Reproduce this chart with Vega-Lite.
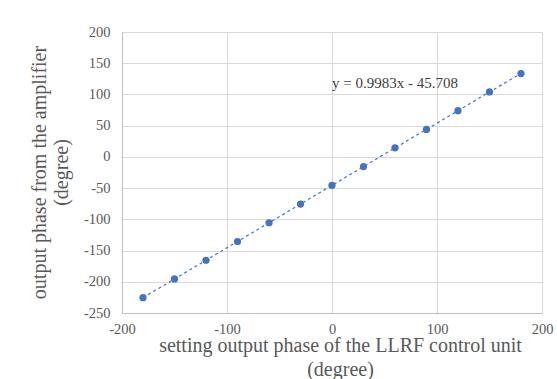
{
  "$schema": "https://vega.github.io/schema/vega-lite/v6.json",
  "autosize": "none",
  "width": 420,
  "height": 281,
  "padding": {"left": 122, "top": 32, "right": 15, "bottom": 66},
  "background": "white",
  "config": {
    "font": "Liberation Serif",
    "view": {"stroke": "#bfbfbf", "strokeWidth": 1},
    "axis": {
      "labelFont": "Liberation Serif",
      "titleFont": "Liberation Serif",
      "labelColor": "#595959",
      "titleColor": "#595959",
      "labelFontSize": 14.5,
      "titleFontSize": 20,
      "titleFontWeight": "normal",
      "gridColor": "#d9d9d9",
      "gridWidth": 1,
      "domainColor": "#bfbfbf",
      "ticks": false,
      "labelFlush": false,
      "labelOverlap": false,
      "labelExpr": "'' + datum.value"
    }
  },
  "data": {
    "values": [
      {"x": -180, "y": -225.5},
      {"x": -150, "y": -195.5},
      {"x": -120, "y": -165.5},
      {"x": -90, "y": -135.5},
      {"x": -60, "y": -105.5},
      {"x": -30, "y": -75.5},
      {"x": 0, "y": -45.5},
      {"x": 30, "y": -15.5},
      {"x": 60, "y": 14.5},
      {"x": 90, "y": 44},
      {"x": 120, "y": 74},
      {"x": 150, "y": 104},
      {"x": 180, "y": 133.5}
    ]
  },
  "encoding": {
    "x": {
      "field": "x",
      "type": "quantitative",
      "scale": {"domain": [-200, 200], "nice": false, "zero": false},
      "axis": {
        "values": [-200, -100, 0, 100, 200],
        "labelPadding": 9,
        "title": ["setting output phase of the LLRF control unit", "(degree)"],
        "titleLineHeight": 24,
        "titleX": 218,
        "titleY": 38,
        "titleBaseline": "alphabetic",
        "titleAlign": "center",
        "titlePadding": 0
      }
    },
    "y": {
      "field": "y",
      "type": "quantitative",
      "scale": {"domain": [-250, 200], "nice": false, "zero": false},
      "axis": {
        "values": [-250, -200, -150, -100, -50, 0, 50, 100, 150, 200],
        "labelPadding": 12,
        "title": ["output phase from the amplifier", "(degree)"],
        "titleLineHeight": 22,
        "titleAngle": -90,
        "titleX": -77,
        "titleY": 140,
        "titleBaseline": "alphabetic",
        "titleAlign": "center"
      }
    }
  },
  "layer": [
    {
      "mark": {"type": "line", "color": "#4472C4", "strokeWidth": 1.2, "strokeDash": [3, 3]}
    },
    {
      "mark": {"type": "point", "filled": true, "opacity": 1, "color": "#4472C4", "size": 52}
    },
    {
      "data": {"values": [{"x": 0, "y": 110, "label": "y = 0.9983x - 45.708"}]},
      "mark": {"type": "text", "align": "left", "baseline": "alphabetic", "fontSize": 15, "color": "#404040", "font": "Liberation Serif"},
      "encoding": {"text": {"field": "label"}}
    }
  ]
}
